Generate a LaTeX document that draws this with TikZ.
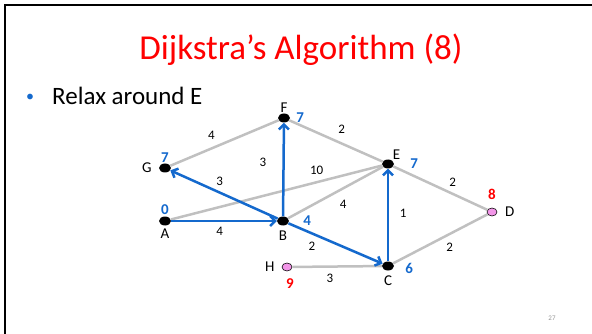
\documentclass[tikz,border=0pt]{standalone}
\usepackage{fontspec}
\setmainfont{Carlito}
\usetikzlibrary{arrows.meta,positioning,shapes.geometric}
\definecolor{treeblue}{RGB}{20,105,205}
\definecolor{edgegray}{RGB}{192,192,192}
\definecolor{fringepink}{RGB}{242,150,232}
\definecolor{numgray}{RGB}{150,150,150}

\begin{document}
\begin{tikzpicture}[x=1pt, y=-1pt, >={Straight Barb[length=5pt,width=10pt]}, every node/.style={font=\fontsize{15}{18}\selectfont}, vertex/.style={ellipse, fill=black, minimum width=12pt, minimum height=9pt, inner sep=0pt}, fringe/.style={vertex, draw=black, line width=0.6pt, fill=fringepink, minimum width=10pt, minimum height=8pt}, lbl/.style={inner sep=1pt}, dist/.style={lbl, font=\bfseries\fontsize{15}{18}\selectfont, text=treeblue}, newdist/.style={dist, text=red}, wt/.style={inner sep=0pt, font=\fontsize{13}{15}\selectfont}, grayedge/.style={draw=edgegray, line width=2.5pt}, treeedge/.style={draw=treeblue, line width=2.5pt, ->}]
\useasboundingbox (0,0) rectangle (592,334);
\draw[line width=2.5pt] (5,334) -- (5,5) -- (592,5);
\node[font=\fontsize{35}{42}\selectfont, text=red, anchor=base] (title) at (301,60) {Dijkstra’s Algorithm (8)};
\node[font=\fontsize{25}{30}\selectfont, anchor=base west, inner sep=0pt] (point) at (52,105) {Relax around E};
\node[font=\fontsize{16}{18}\selectfont, text=treeblue, inner sep=0pt] (bullet) at (30,98) {•};
\node[font=\fontsize{7}{8}\selectfont, text=numgray] (pageno) at (552,318) {27};
% vertices
\node[vertex, label={[lbl]above:F}, label={[dist, label distance=5pt]right:7}] (F) at (284,118) {};
\node[vertex, label={[dist]above:7}, label={[lbl, label distance=6pt]left:G}] (G) at (165,168) {};
\node[vertex, label={[dist]above:0}, label={[lbl, label distance=2pt]below:A}] (A) at (165,221) {};
\node[vertex, label={[lbl, label distance=3.5pt]below:B}, label={[dist, label distance=13pt]right:4}] (B) at (283,221) {};
\node[vertex, label={[lbl]45:E}, label={[dist, label distance=15pt]right:7}] (E) at (388,164) {};
\node[fringe, label={[newdist, label distance=7pt]above:8}, label={[lbl, label distance=6.5pt]right:D}] (D) at (492,212) {};
\node[vertex, label={[lbl, label distance=4pt]below:C}, label={[dist, label distance=10pt, yshift=-2pt]right:6}] (C) at (388,266) {};
\node[fringe, label={[lbl, label distance=6pt]left:H}, label={[newdist, label distance=6pt, xshift=3pt]below:9}] (H) at (287,267) {};
% edges
\draw[grayedge] (G) -- node[wt, pos=0.38, above=8pt]{4} (F);
\draw[grayedge] (F) -- node[wt, pos=0.56, above=8.5pt]{2} (E);
\draw[grayedge] (A) -- node[wt, pos=0.69, above=6pt]{10} (E);
\draw[grayedge] (B) -- node[wt, pos=0.58, below=10.5pt]{4} (E);
\draw[grayedge] (E) -- node[wt, pos=0.63, above=6pt]{2} (D);
\draw[grayedge] (C) -- node[wt, pos=0.6, below=8pt]{2} (D);
\draw[grayedge] (H) -- node[wt, pos=0.42, below=6.5pt]{3} (C);
\draw[treeedge] (A) -- node[wt, pos=0.46, below=5pt]{4} (B);
\draw[treeedge] (B) -- node[wt, pos=0.58, left=16pt]{3} (F);
\draw[treeedge] (B) -- node[wt, pos=0.54, above=5.5pt]{3} (G);
\draw[treeedge] (B) -- node[wt, pos=0.25, below=7.5pt]{2} (C);
\draw[treeedge] (C) -- node[wt, pos=0.52, right=10.5pt]{1} (E);
\end{tikzpicture}
\end{document}
